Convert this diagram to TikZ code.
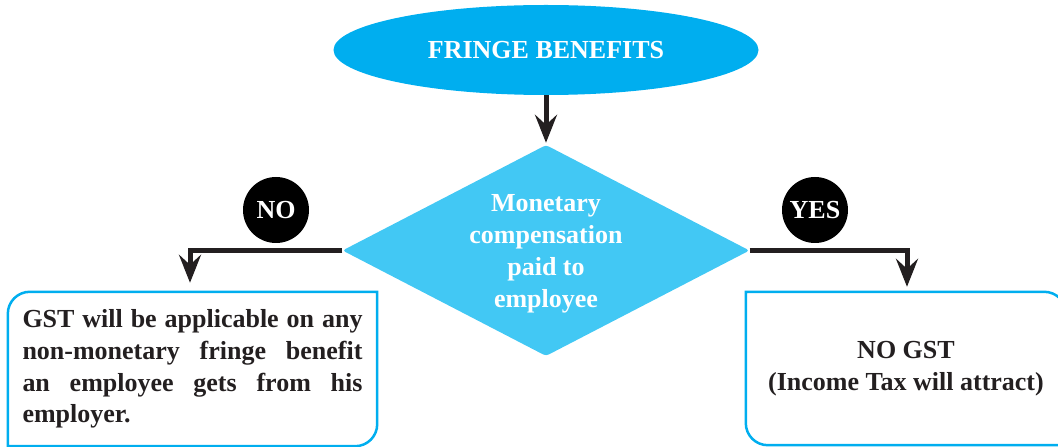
\documentclass[tikz,border=0pt]{standalone}
\usepackage{fontspec}
\setmainfont{Liberation Serif}
\usetikzlibrary{shapes.geometric,arrows.meta,calc}
\definecolor{cyanA}{HTML}{00AEEF}
\definecolor{cyanB}{HTML}{42C8F4}
\definecolor{ink}{HTML}{231F20}
\tikzset{
  arr/.style={draw=ink, line width=5pt, -{Stealth[length=28pt,width=22pt,inset=10pt]}},
  boxline/.style={draw=cyanA, line width=2.5pt},
  badge/.style={circle, fill=black, minimum size=66pt, inner sep=0pt, text=white, font=\bfseries\fontsize{26}{28}\selectfont},
  boxtext/.style={rectangle, inner ysep=0pt, text=ink, font=\bfseries\fontsize{26}{31.7}\selectfont}
}
\begin{document}
\begin{tikzpicture}[x=1pt,y=1pt]
\useasboundingbox (0,0) rectangle (1058,447);
\node[ellipse, fill=cyanA, minimum width=425pt, minimum height=90pt, inner sep=0pt, text=white, font=\bfseries\fontsize{26}{28}\selectfont] (fb) at (546,397) {FRINGE BENEFITS};
\node[diamond, fill=cyanB, aspect=2, minimum width=407pt, minimum height=211pt, inner sep=0pt, rounded corners=3pt] (dia) at (546,196.5) {};
\node[text=white, align=center, inner sep=0pt, font=\bfseries\fontsize{26}{32}\selectfont] (diatext) at ([yshift=-3.5pt]dia.center) {Monetary\\compensation\\paid to\\employee};
\node[badge] (no) at (276,237) {NO};
\node[badge] (yes) at (815,237) {YES};
\node[boxtext, text width=340pt, inner xsep=14.5pt, minimum height=154pt, align=justify] (lb) at (192.5,78) {GST will be applicable on any\linebreak non-monetary fringe benefit\linebreak an employee gets from his\linebreak employer.};
\node[boxtext, minimum width=320pt, minimum height=153pt, align=center] (rb) at (906,78.5) {NO GST\\(Income Tax will attract)};
\draw[boxline] (lb.south west) -- ([yshift=-22pt]lb.north west) arc[start angle=180, end angle=90, radius=22pt] -- (lb.north east) -- ([yshift=22pt]lb.south east) arc[start angle=0, end angle=-90, radius=22pt] -- cycle;
\draw[boxline] (rb.north west) -- ([xshift=-22pt]rb.north east) arc[start angle=90, end angle=0, radius=22pt] -- (rb.south east) -- ([xshift=22pt]rb.south west) arc[start angle=270, end angle=180, radius=22pt] -- cycle;
\draw[arr, shorten >=2pt] (fb.south) -- (dia.north);
\draw[arr] (dia.west) -| ([shift={(-2.5pt,9pt)}]lb.north);
\draw[arr] (dia.east) -| ([shift={(1pt,5pt)}]rb.north);
\end{tikzpicture}
\end{document}
